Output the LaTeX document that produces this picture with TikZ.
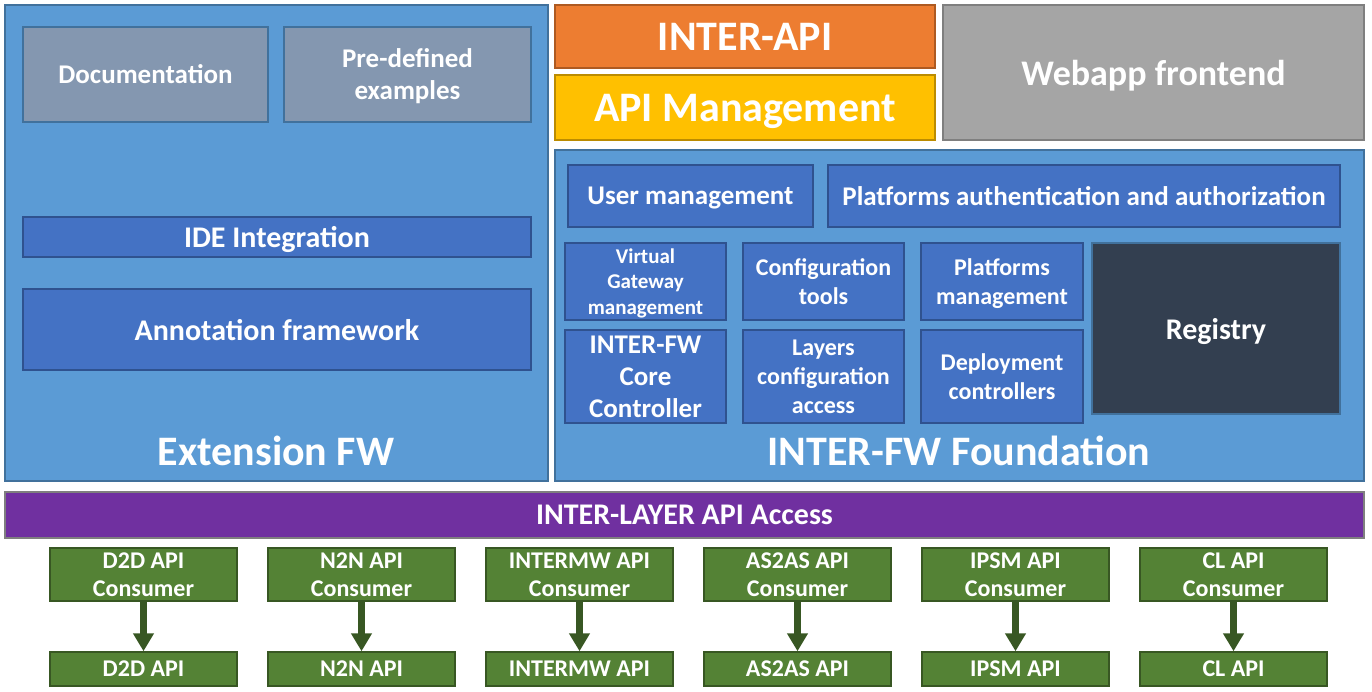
\documentclass[tikz,border=0pt]{standalone}
\usepackage{fontspec}
\setmainfont{Carlito}
\usepackage{tikz}
\usetikzlibrary{arrows.meta}
\definecolor{extblue}{HTML}{5B9BD5}
\definecolor{extedge}{HTML}{41719C}
\definecolor{inblue}{HTML}{4472C4}
\definecolor{inedge}{HTML}{2F528F}
\definecolor{docgray}{HTML}{8497B0}
\definecolor{apiorange}{HTML}{ED7D31}
\definecolor{orangeedge}{HTML}{AE5A21}
\definecolor{apiyellow}{HTML}{FFC000}
\definecolor{yellowedge}{HTML}{BC8C00}
\definecolor{webgray}{HTML}{A5A5A5}
\definecolor{webedge}{HTML}{7F7F7F}
\definecolor{regdark}{HTML}{333F50}
\definecolor{layerpurple}{HTML}{7030A0}
\definecolor{apigreen}{HTML}{548235}
\definecolor{greenedge}{HTML}{385723}
\begin{document}
\begin{tikzpicture}[x=1pt,y=-1pt,
  blk/.style={draw,line width=1.5pt,inner sep=0pt,align=center,text=white,text depth=0pt,
    font=\bfseries\fontsize{#1}{#1}\selectfont},
  blk/.default=27,
  outer/.style={blk,fill=extblue,draw=extedge},
  inner/.style={blk=#1,fill=inblue,draw=inedge},
  inner/.default=27,
  greenbox/.style={blk=24,fill=apigreen,draw=greenedge,minimum width=187pt,
    font=\bfseries\fontsize{24}{28}\selectfont},
  biglabel/.style={text=white,font=\bfseries\fontsize{42}{46}\selectfont}]
\useasboundingbox (0,0) rectangle (1372,692);
% Extension FW
\node[outer,minimum width=543pt,minimum height=476pt] (ext) at (276.5,243) {};
\node[blk,fill=docgray,draw=extedge,minimum width=245pt,minimum height=95pt] (doc) at (145.5,74.5) {Documentation};
\node[blk,fill=docgray,draw=extedge,minimum width=247pt,minimum height=95pt,
  font=\bfseries\fontsize{27}{32}\selectfont] (predef) at (407.5,74.5) {Pre-defined\\examples};
\node[inner=30,minimum width=508pt,minimum height=40pt] (ide) at (277,237) {IDE Integration};
\node[inner=30,minimum width=508pt,minimum height=81pt] (annot) at (277,329.5) {Annotation framework};
\node[biglabel] (extlabel) at (276,451) {Extension FW};
% top APIs
\node[blk=42,fill=apiorange,draw=orangeedge,minimum width=380pt,minimum height=63pt] (interapi) at (745,36.5) {INTER-API};
\node[blk=42,fill=apiyellow,draw=yellowedge,minimum width=380pt,minimum height=65pt] (apimgmt) at (745,107.5) {API Management};
\node[blk=36,fill=webgray,draw=webedge,minimum width=421pt,minimum height=135pt] (webapp) at (1153.5,72.5) {Webapp frontend};
% INTER-FW Foundation
\node[outer,minimum width=809pt,minimum height=331pt] (found) at (959.5,315.5) {};
\node[inner,minimum width=245pt,minimum height=62pt] (user) at (690.5,196) {User management};
\node[inner,minimum width=512pt,minimum height=62pt] (auth) at (1084,196) {Platforms authentication and authorization};
\node[inner=21,minimum width=161pt,minimum height=77pt,
  font=\bfseries\fontsize{21}{25.5}\selectfont] (vgw) at (645.5,281.5) {Virtual\\Gateway\\management};
\node[inner=24,minimum width=161pt,minimum height=77pt,
  font=\bfseries\fontsize{24}{29}\selectfont] (conf) at (823.5,281.5) {Configuration\\tools};
\node[inner=24,minimum width=162pt,minimum height=77pt,
  font=\bfseries\fontsize{24}{29}\selectfont] (platm) at (1002,281.5) {Platforms\\management};
\node[blk=30,fill=regdark,draw=extedge,minimum width=248pt,minimum height=171pt] (reg) at (1216,328.5) {Registry};
\node[inner=27,minimum width=161pt,minimum height=93pt,
  font=\bfseries\fontsize{27}{32}\selectfont] (core) at (645.5,376.5) {INTER-FW\\Core\\Controller};
\node[inner=24,minimum width=161pt,minimum height=93pt,
  font=\bfseries\fontsize{24}{29}\selectfont] (layers) at (823.5,376.5) {Layers\\configuration\\access};
\node[inner=24,minimum width=162pt,minimum height=93pt,
  font=\bfseries\fontsize{24}{29}\selectfont] (deploy) at (1002,376.5) {Deployment\\controllers};
\node[biglabel] (foundlabel) at (959,451) {INTER-FW Foundation};
% INTER-LAYER
\node[blk=30,fill=layerpurple,draw=webedge,minimum width=1359pt,minimum height=46pt] (layer) at (684.5,515) {INTER-LAYER API Access};
% consumers and APIs
\foreach \api [count=\i from 0] in {D2D,N2N,INTERMW,AS2AS,IPSM,CL} {
  \node[greenbox,minimum height=53pt] (cons\i) at (143.5+218*\i,574.5) {\api{} API\\Consumer};
  \node[greenbox,minimum height=34pt] (api\i) at (143.5+218*\i,669) {\api{} API};
  \draw[greenedge,line width=7pt,-{Triangle[width=20pt,length=18pt]}] (cons\i) -- (api\i);
}
\end{tikzpicture}
\end{document}
